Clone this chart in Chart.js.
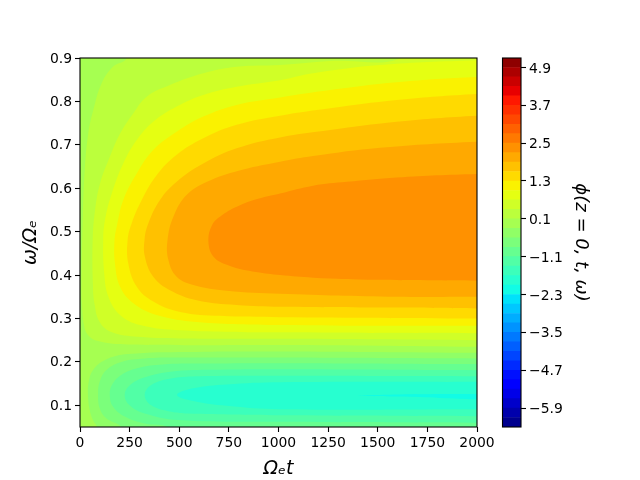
<!DOCTYPE html>
<html>
<head>
<meta charset="utf-8">
<script src="https://cdn.jsdelivr.net/npm/chart.js@4"></script>
<style>
html,body{margin:0;padding:0;background:#fff;width:640px;height:480px;overflow:hidden}
canvas{position:absolute;left:0;top:0}
</style>
</head>
<body>
<canvas id="main" width="640" height="480"></canvas>
<canvas id="bar" width="640" height="480"></canvas>
<script>
// Filled-contour boundaries: [Omega_e t, omega/Omega_e]
const plotBase  = [[-100,1],[2200,1],[2200,0],[-100,0]];
const contourP01 = [[2200,0.96],[235,0.96],[235,0.9],[166,0.88],[109,0.842],[67,0.78],[42,0.727],[25,0.65],[14,0.534],[8,0.377],[10,0.331],[20,0.285],[40,0.262],[91,0.248],[242,0.24],[1008,0.239],[2000,0.235],[2200,0.235]];
const contourP04 = [[2200,0.96],[1612,0.96],[1612,0.899],[1260,0.893],[1008,0.884],[789,0.88],[621,0.865],[453,0.838],[336,0.811],[269,0.773],[202,0.726],[151,0.673],[101,0.611],[76,0.55],[64,0.481],[65,0.377],[74,0.331],[99,0.292],[158,0.269],[292,0.258],[544,0.254],[1008,0.253],[2000,0.25],[2200,0.25]];
const contourP07 = [[2200,0.895],[2000,0.895],[1511,0.884],[1174,0.865],[1008,0.849],[789,0.834],[621,0.815],[487,0.788],[369,0.753],[286,0.711],[218,0.657],[160,0.588],[126,0.527],[117,0.481],[122,0.404],[143,0.35],[202,0.308],[302,0.285],[504,0.273],[1008,0.268],[2000,0.266],[2200,0.266]];
const contourP10 = [[2200,0.856],[2000,0.856],[1595,0.844],[1260,0.826],[1008,0.809],[789,0.792],[621,0.765],[487,0.73],[369,0.688],[286,0.634],[218,0.573],[185,0.511],[174,0.481],[176,0.427],[202,0.373],[269,0.335],[386,0.308],[588,0.292],[1008,0.285],[2000,0.283],[2200,0.283]];
const contourP13 = [[2200,0.817],[2000,0.817],[1595,0.803],[1260,0.784],[1008,0.767],[789,0.746],[621,0.715],[487,0.677],[386,0.63],[311,0.573],[260,0.519],[240,0.481],[243,0.427],[286,0.373],[369,0.339],[504,0.315],[705,0.306],[1008,0.303],[2000,0.3],[2200,0.3]];
const contourP16 = [[2200,0.767],[2000,0.767],[1595,0.753],[1260,0.734],[1008,0.717],[789,0.692],[621,0.657],[487,0.615],[403,0.573],[344,0.519],[325,0.481],[327,0.442],[369,0.396],[453,0.365],[588,0.342],[789,0.331],[1008,0.327],[1612,0.325],[2000,0.323],[2200,0.323]];
const contourP19 = [[2200,0.707],[2000,0.707],[1511,0.693],[1174,0.674],[1008,0.661],[823,0.643],[655,0.618],[538,0.585],[470,0.534],[441,0.481],[445,0.435],[487,0.396],[571,0.377],[739,0.364],[1008,0.357],[1595,0.35],[2000,0.35],[2200,0.35]];
const contourP22 = [[2200,0.633],[2000,0.633],[1595,0.625],[1344,0.615],[1174,0.606],[1008,0.588],[907,0.577],[806,0.561],[715,0.538],[665,0.515],[647,0.476],[675,0.441],[756,0.421],[887,0.407],[1008,0.4],[1174,0.394],[1495,0.389],[2000,0.387],[2200,0.387]];
const contourM02 = [[2200,0.221],[2000,0.221],[1008,0.224],[544,0.223],[242,0.218],[124,0.204],[65,0.181],[44,0.154],[40,0.124],[49,0.089],[65,0.066],[86,0.05],[86,0.03],[2200,0.03]];
const contourM05 = [[2200,0.208],[2000,0.208],[1008,0.21],[544,0.21],[326,0.208],[208,0.2],[132,0.181],[99,0.154],[91,0.124],[99,0.093],[132,0.07],[208,0.05],[208,0.03],[2200,0.03]];
const contourM08 = [[2200,0.195],[2000,0.195],[1008,0.197],[605,0.196],[418,0.194],[292,0.186],[208,0.17],[161,0.147],[150,0.124],[166,0.097],[225,0.074],[326,0.058],[443,0.05],[443,0.03],[2200,0.03]];
const contourM11 = [[2200,0.181],[2000,0.181],[1008,0.183],[705,0.182],[487,0.179],[336,0.166],[252,0.147],[225,0.124],[250,0.1],[326,0.081],[494,0.066],[1008,0.062],[2000,0.06],[2200,0.06]];
const contourM14 = [[2200,0.167],[2000,0.167],[1008,0.168],[605,0.167],[460,0.162],[359,0.147],[326,0.124],[359,0.1],[460,0.085],[544,0.081],[1008,0.077],[2000,0.075],[2200,0.075]];
const contourM17 = [[2200,0.154],[2000,0.154],[1008,0.153],[739,0.148],[571,0.139],[489,0.124],[571,0.11],[739,0.099],[1008,0.091],[2000,0.091],[2200,0.091]];
const contourM20 = [[2200,0.126],[2000,0.126],[1612,0.125],[1400,0.122],[1612,0.12],[1814,0.117],[2000,0.114],[2200,0.114]];

const xTicks = [0,250,500,750,1000,1250,1500,1750,2000];
const yTicks = [0.1,0.2,0.3,0.4,0.5,0.6,0.7,0.8,0.9];
const barTicks = [-5.9,-4.7,-3.5,-2.3,-1.1,0.1,1.3,2.5,3.7,4.9];
const levels = [-6.5,-6.2,-5.9,-5.6,-5.3,-5.0,-4.7,-4.4,-4.1,-3.8,-3.5,-3.2,-2.9,-2.6,-2.3,-2.0,-1.7,-1.4,-1.1,-0.8,-0.5,-0.2,0.1,0.4,0.7,1.0,1.3,1.6,1.9,2.2,2.5,2.8,3.1,3.4,3.7,4.0,4.3,4.6,4.9,5.2];

const FONT = '"DejaVu Sans"';
const vmin = levels[0], vmax = levels[levels.length-1];
const R=[[0,0],[.35,0],[.66,1],[.89,1],[1,.5]], G=[[0,0],[.125,0],[.375,1],[.64,1],[.91,0],[1,0]], B=[[0,.5],[.11,1],[.34,1],[.65,0],[1,0]];
function seg(s,x){for(let i=1;i<s.length;i++){if(x<=s[i][0]){const a=s[i-1],b=s[i];return a[1]+(b[1]-a[1])*(x-a[0])/(b[0]-a[0]);}}return s[s.length-1][1];}
function jet(v){const x=(v-vmin)/(vmax-vmin);return `rgb(${Math.round(seg(R,x)*255)},${Math.round(seg(G,x)*255)},${Math.round(seg(B,x)*255)})`;}

const layers = [
  [plotBase,-0.05],[contourP01,0.25],[contourP04,0.55],[contourP07,0.85],[contourP10,1.15],[contourP13,1.45],[contourP16,1.75],[contourP19,2.05],[contourP22,2.35],
  [contourM02,-0.35],[contourM05,-0.65],[contourM08,-0.95],[contourM11,-1.25],[contourM14,-1.55],[contourM17,-1.85],[contourM20,-2.15]
];
const frame = {id:'frame',afterDraw(c){const a=c.chartArea,x=c.ctx;x.save();x.strokeStyle='#000';x.lineWidth=1.1;x.strokeRect(a.left,a.top,a.right-a.left,a.bottom-a.top);x.restore();}};
const tickStyle = {display:true,drawOnChartArea:false,drawTicks:true,tickLength:5,tickColor:'#000',tickWidth:1.1,color:'#000'};

new Chart(document.getElementById('main'),{
  type:'scatter',
  data:{datasets:layers.map(([pts,val],i)=>({
    data:pts.map(p=>({x:p[0],y:p[1]})),
    showLine:true,fill:'shape',backgroundColor:jet(val),borderWidth:0,pointRadius:0,tension:0.4,capBezierPoints:false,order:layers.length-i,clip:false
  }))},
  options:{
    responsive:false,animation:false,devicePixelRatio:1,
    layout:{padding:{left:20,top:58,right:163,bottom:0}},
    plugins:{legend:{display:false},tooltip:{enabled:false},title:{display:false}},
    scales:{
      x:{type:'linear',min:0,max:2000,afterBuildTicks(s){s.ticks=xTicks.map(v=>({value:v}));},afterFit(s){s.height=53;},
        grid:tickStyle,border:{display:false},
        ticks:{color:'#000',font:{family:FONT,size:13.9},padding:3,maxRotation:0,autoSkip:false,callback:v=>String(v)},
        title:{display:true,text:'Ωₑt',color:'#000',font:{family:FONT,size:19,style:'italic'},padding:{top:2,bottom:0}}},
      y:{type:'linear',min:0.05,max:0.9,afterBuildTicks(s){s.ticks=yTicks.map(v=>({value:v}));},afterFit(s){s.width=60;},
        grid:tickStyle,border:{display:false},
        ticks:{color:'#000',font:{family:FONT,size:13.9},padding:3,autoSkip:false,labelOffset:1,callback:v=>v.toFixed(1)},
        title:{display:true,text:'ω/Ωₑ',color:'#000',font:{family:FONT,size:19,style:'italic'},padding:{top:0,bottom:0}}}
    }
  },
  plugins:[frame]
});

const bands = levels.slice(0,-1).map((lo,i)=>[lo,levels[i+1]]);
new Chart(document.getElementById('bar'),{
  type:'bar',
  data:{labels:['φ'],datasets:bands.map(b=>({data:[b],backgroundColor:jet((b[0]+b[1])/2),borderWidth:0,barPercentage:1,categoryPercentage:1}))},
  options:{
    responsive:false,animation:false,devicePixelRatio:1,
    layout:{padding:{left:502.5,top:58,right:49,bottom:53}},
    plugins:{legend:{display:false},tooltip:{enabled:false}},
    scales:{
      x:{stacked:true,display:false},
      y:{type:'linear',position:'right',min:vmin,max:vmax,afterBuildTicks(s){s.ticks=barTicks.map(v=>({value:v}));},afterFit(s){s.width=70;},
        grid:tickStyle,border:{display:false},
        ticks:{color:'#000',font:{family:FONT,size:13.9},padding:3,autoSkip:false,labelOffset:1.5,callback:v=>v.toFixed(1).replace('-','−')},
        title:{display:true,text:'ϕ(z = 0, t, ω)',color:'#000',font:{family:FONT,size:18,style:'italic'},padding:{top:0,bottom:0}}}
    }
  },
  plugins:[frame]
});
</script>
</body>
</html>
